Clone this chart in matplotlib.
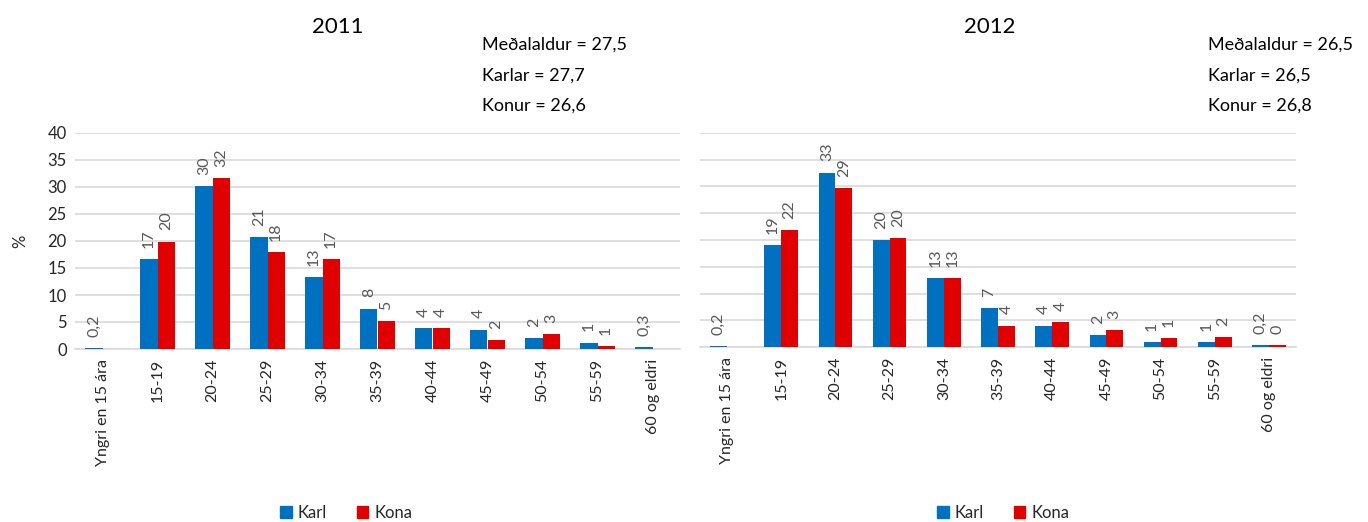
import matplotlib
matplotlib.use("Agg")
import matplotlib.pyplot as plt
from matplotlib.patches import Patch
import numpy as np

plt.rcParams['font.family'] = ['Lato', 'DejaVu Sans']

categories = ["Yngri en 15 ára", "15-19", "20-24", "25-29", "30-34", "35-39",
              "40-44", "45-49", "50-54", "55-59", "60 og eldri"]

karl_2011 = [0.2, 16.7, 30.1, 20.8, 13.4, 7.5, 3.9, 3.6, 2.1, 1.2, 0.3]
kona_2011 = [0.0, 19.9, 31.6, 17.9, 16.7, 5.1, 3.9, 1.6, 2.7, 0.6, 0.0]
karl_2011_labels = ["0,2", "17", "30", "21", "13", "8", "4", "4", "2", "1", "0,3"]
kona_2011_labels = ["", "20", "32", "18", "17", "5", "4", "2", "3", "1", ""]

karl_2012 = [0.2, 19.1, 32.6, 20.0, 12.9, 7.3, 4.0, 2.2, 1.0, 1.0, 0.3]
kona_2012 = [0.0, 21.9, 29.7, 20.3, 12.9, 4.0, 4.6, 3.1, 1.6, 1.9, 0.3]
karl_2012_labels = ["0,2", "19", "33", "20", "13", "7", "4", "2", "1", "1", "0,2"]
kona_2012_labels = ["", "22", "29", "20", "13", "4", "4", "3", "1", "2", "0"]

titles = ["2011", "2012"]
stats_2011 = ["Meðalaldur = 27,5", "Karlar = 27,7", "Konur = 26,6"]
stats_2012 = ["Meðalaldur = 26,5", "Karlar = 26,5", "Konur = 26,8"]
series_names = ["Karl", "Kona"]
y_ticks = [0, 5, 10, 15, 20, 25, 30, 35, 40]

BLUE = "#0070C0"
RED = "#E00000"
GRID = "#D9D9D9"
LABEL_GRAY = "#595959"
TEXT = "#262626"

W, H = 1368, 522
fig = plt.figure(figsize=(W / 100, H / 100), dpi=100)

def px_rect(x0, x1, y_top, y_bot):
    return [x0 / W, 1 - y_bot / H, (x1 - x0) / W, (y_bot - y_top) / H]

axes_specs = [
    (px_rect(75, 680, 133, 349), karl_2011, kona_2011, karl_2011_labels, kona_2011_labels, True),
    (px_rect(700, 1296, 133, 347), karl_2012, kona_2012, karl_2012_labels, kona_2012_labels, False),
]

bw = 0.31
x = np.arange(len(categories))
axes = []
for rect, karl, kona, kl, kol, show_y in axes_specs:
    ax = fig.add_axes(rect)
    axes.append(ax)
    b1 = ax.bar(x - bw / 2, karl, width=bw, color=BLUE, linewidth=0, zorder=3)
    b2 = ax.bar(x + bw / 2, kona, width=bw, color=RED, linewidth=0, zorder=3)
    for bars, labs in ((b1, kl), (b2, kol)):
        for bar, lab in zip(bars, labs):
            if not lab:
                continue
            ax.annotate(lab, (bar.get_x() + bar.get_width() / 2, bar.get_height()),
                        xytext=(0, 8), textcoords="offset points", rotation=90,
                        ha="center", va="bottom", fontsize=11.5, color=LABEL_GRAY,
                        zorder=4)
    ax.set_xlim(-0.5, len(categories) - 0.5)
    ax.set_ylim(0, 40)
    ax.set_yticks(y_ticks)
    ax.yaxis.grid(True, color=GRID, linewidth=1.2, zorder=0)
    ax.set_axisbelow(True)
    for s in ("top", "right", "left"):
        ax.spines[s].set_visible(False)
    ax.spines["bottom"].set_color(GRID)
    ax.spines["bottom"].set_linewidth(1.2)
    ax.set_xticks(x)
    ax.set_xticklabels(categories, rotation=90, fontsize=11.5, color=TEXT)
    ax.tick_params(axis="x", length=0, pad=7)
    ax.tick_params(axis="y", length=0, pad=6, labelsize=12, labelcolor=TEXT)
    if not show_y:
        ax.set_yticklabels([])
    ax.legend(handles=[Patch(color=BLUE, label=series_names[0]),
                       Patch(color=RED, label=series_names[1])],
              loc="center", ncol=2, frameon=False, fontsize=12,
              handlelength=0.7, handleheight=0.7, handletextpad=0.35,
              columnspacing=1.8, labelcolor=TEXT,
              bbox_to_anchor=((346 if show_y else 1003) / W, 1 - 513 / H),
              bbox_transform=fig.transFigure)

axes[0].set_ylabel("%", fontsize=12, color=TEXT, labelpad=14)

# Titles
fig.text(338 / W, 1 - 27 / H, titles[0], ha="center", va="center", fontsize=16, color="black")
fig.text(990 / W, 1 - 27 / H, titles[1], ha="center", va="center", fontsize=16, color="black")

for xs, lines in ((482, stats_2011), (1208, stats_2012)):
    for yy, line in zip((45, 76, 106), lines):
        fig.text(xs / W, 1 - yy / H, line, ha="left", va="center", fontsize=13, color="black")

fig.savefig("out.png", dpi=100)
